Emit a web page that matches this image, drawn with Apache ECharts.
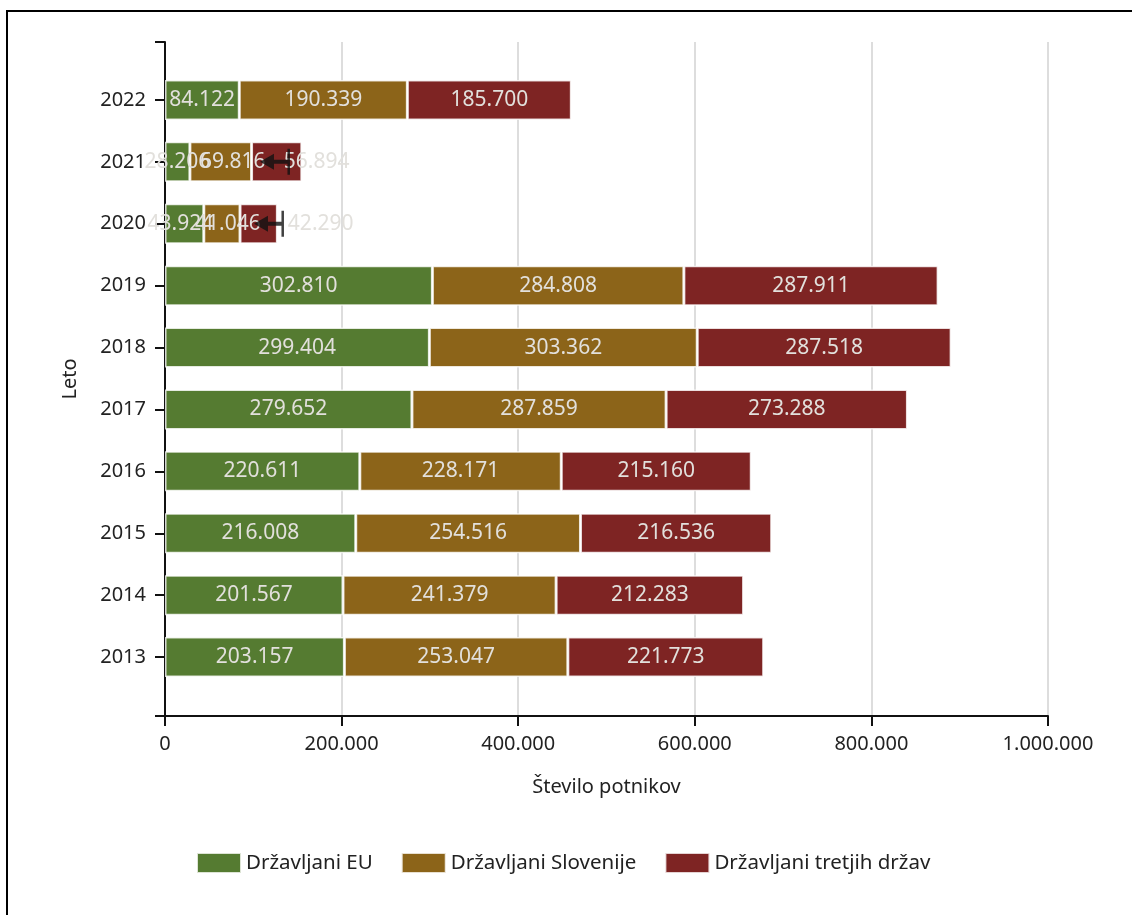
<!DOCTYPE html>
<html>
<head>
<meta charset="utf-8">
<title>Število potnikov</title>
<script src="https://cdn.jsdelivr.net/npm/echarts@6/dist/echarts.min.js"></script>
<style>
  html, body { margin: 0; padding: 0; background: #fff; }
  #chart { width: 1132px; height: 915px; }
</style>
</head>
<body>
<div id="chart"></div>
<script>
// leta (od spodaj navzgor)
const years = ['2013', '2014', '2015', '2016', '2017', '2018', '2019', '2020', '2021', '2022']
const euCitizens = [203157, 201567, 216008, 220611, 279652, 299404, 302810, 43924, 28206, 84122]
const sloCitizens = [253047, 241379, 254516, 228171, 287859, 303362, 284808, 41046, 69816, 190339]
const thirdCitizens = [221773, 212283, 216536, 215160, 273288, 287518, 287911, 42290, 56894, 185700]
// puščice pri 2020 in 2021
const markerValues = [null, null, null, null, null, null, null, 133600, 140400, null]
const xTicks = [0, 200000, 400000, 600000, 800000, 1000000]

const seriesNames = ['Državljani EU', 'Državljani Slovenije', 'Državljani tretjih držav']
const colors = ['#557b31', '#8c6419', '#7e2423']
const font = 'Noto Sans'

// zamik oznak pri ozkih stolpcih (2020, 2021), v px
const labelShift = [
  { '2020': -4, '2021': 0 },
  { '2020': 6, '2021': 12 },
  { '2020': 62, '2021': 40 }
]

function fmt(v) {
  return String(v).replace(/\B(?=(\d{3})+(?!\d))/g, '.')
}

const chart = echarts.init(document.getElementById('chart'))

function barSeries(idx, data) {
  return {
    name: seriesNames[idx],
    type: 'bar',
    stack: 'total',
    xAxisIndex: 1,
    yAxisIndex: 1,
    barWidth: 40,
    data: data.map((v, i) => {
      const dx = labelShift[idx][years[i]]
      return dx ? { value: v, label: { offset: [dx, 0] } } : v
    }),
    itemStyle: { color: colors[idx], borderColor: 'rgba(255,255,255,0.8)', borderWidth: 1.5 },
    label: {
      show: true,
      position: 'inside',
      color: '#e2e0dc',
      fontFamily: font,
      fontSize: 21,
      formatter: p => fmt(p.value)
    }
  }
}

const markerData = []
markerValues.forEach((v, i) => {
  if (v != null) markerData.push([v, years[i]])
})

chart.setOption({
  animation: false,
  textStyle: { fontFamily: font },
  color: colors,
  graphic: [{
    type: 'rect',
    shape: { x: 7, y: 11, width: 1300, height: 1100 },
    style: { fill: 'none', stroke: '#000', lineWidth: 2 },
    silent: true
  }],
  legend: {
    data: seriesNames,
    top: 852,
    left: 196,
    padding: 0,
    icon: 'rect',
    itemWidth: 44,
    itemHeight: 20,
    itemGap: 28,
    textStyle: { fontFamily: font, fontSize: 20.5, color: '#222' }
  },
  grid: [
    { left: 165, right: 84, top: 42, bottom: 199 },
    { left: 165, right: 84, top: 69, bottom: 227 }
  ],
  xAxis: [
    {
      gridIndex: 0,
      type: 'value',
      min: xTicks[0],
      max: xTicks[xTicks.length - 1],
      interval: xTicks[1] - xTicks[0],
      name: 'Število potnikov',
      nameLocation: 'middle',
      nameGap: 61,
      nameTextStyle: { fontFamily: font, fontSize: 20, color: '#222' },
      axisLine: { show: true, lineStyle: { color: '#111', width: 2 } },
      axisTick: { show: true, length: 10, lineStyle: { color: '#111', width: 2 } },
      axisLabel: { fontFamily: font, fontSize: 20, color: '#222', margin: 18, formatter: v => fmt(v) },
      splitLine: { show: true, lineStyle: { color: '#dddddd', width: 2 } }
    },
    {
      gridIndex: 1,
      type: 'value',
      min: xTicks[0],
      max: xTicks[xTicks.length - 1],
      show: false
    }
  ],
  yAxis: [
    {
      gridIndex: 0,
      type: 'value',
      min: 0,
      max: 1,
      interval: 1,
      name: 'Leto',
      nameLocation: 'middle',
      nameGap: 85,
      nameTextStyle: { fontFamily: font, fontSize: 20, color: '#222' },
      axisLine: { show: true, lineStyle: { color: '#111', width: 2 } },
      axisTick: { show: true, length: 10, lineStyle: { color: '#111', width: 2 } },
      axisLabel: { show: false },
      splitLine: { show: false }
    },
    {
      gridIndex: 1,
      type: 'category',
      data: years,
      axisLine: { show: false },
      axisTick: { show: true, alignWithLabel: true, length: 10, lineStyle: { color: '#111', width: 2 } },
      axisLabel: { fontFamily: font, fontSize: 20, color: '#222', margin: 19 },
      splitLine: { show: false }
    }
  ],
  series: [
    barSeries(0, euCitizens),
    barSeries(1, sloCitizens),
    barSeries(2, thirdCitizens),
    {
      type: 'scatter',
      xAxisIndex: 1,
      yAxisIndex: 1,
      data: markerData,
      symbol: 'path://M27.5,0 L30,0 L30,26 L27.5,26 Z M0,13 L14,5 L14,11 L27.5,11 L27.5,15 L14,15 L14,21 Z',
      symbolSize: [30, 26],
      symbolOffset: [-14, 0],
      itemStyle: { color: '#111' },
      silent: true,
      z: 5
    }
  ]
})
</script>
</body>
</html>
